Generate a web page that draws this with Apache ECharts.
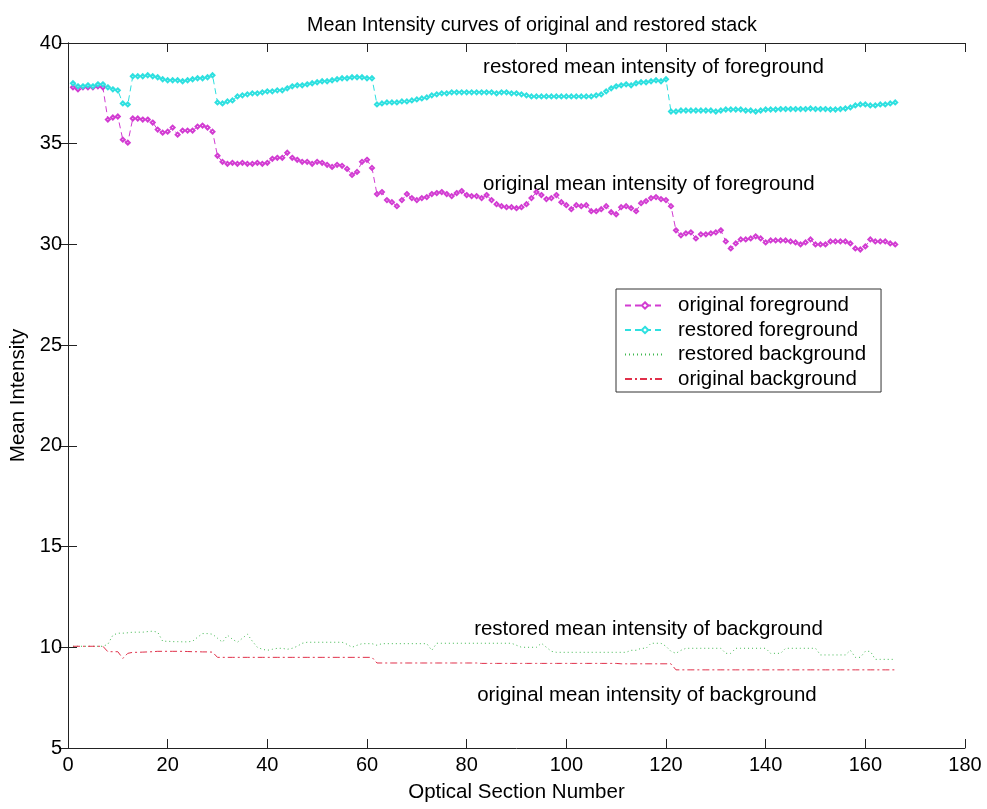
<!DOCTYPE html>
<html>
<head>
<meta charset="utf-8">
<script src="https://cdn.jsdelivr.net/npm/echarts@6/dist/echarts.min.js"></script>
<style>
html,body{margin:0;padding:0;background:#fff;}
#chart{width:987px;height:809px;}
</style>
</head>
<body>
<div id="chart"></div>
<script>
// Optical section numbers 1..166
var sections = [];
for (var s = 1; s <= 166; s++) sections.push(s);

var originalForeground = [
37.8,37.7,37.8,37.8,37.8,37.85,37.8,36.2,36.3,36.35,
35.2,35.05,36.25,36.25,36.2,36.2,36.05,35.7,35.55,35.6,
35.8,35.45,35.65,35.65,35.65,35.85,35.9,35.8,35.6,34.4,
34.1,34.0,34.05,34.0,34.05,34.0,34.0,34.05,34.0,34.05,
34.25,34.3,34.3,34.55,34.3,34.2,34.1,34.1,34.0,34.1,
34.05,33.95,33.85,33.95,33.9,33.75,33.45,33.6,34.1,34.2,
33.8,32.5,32.6,32.2,32.1,31.9,32.2,32.5,32.3,32.2,
32.3,32.35,32.5,32.55,32.6,32.5,32.4,32.55,32.65,32.45,
32.4,32.4,32.3,32.45,32.2,32.0,31.9,31.85,31.85,31.8,
31.85,32.0,32.3,32.6,32.45,32.25,32.3,32.45,32.1,31.95,
31.75,31.95,31.9,31.95,31.65,31.65,31.75,31.9,31.6,31.5,
31.85,31.9,31.8,31.65,32.05,32.15,32.3,32.35,32.25,32.2,
31.9,30.7,30.45,30.55,30.6,30.3,30.5,30.5,30.55,30.6,
30.7,30.15,29.8,30.05,30.25,30.25,30.3,30.4,30.3,30.1,
30.2,30.2,30.2,30.2,30.15,30.1,30.0,30.1,30.25,30.0,
30.0,30.0,30.15,30.15,30.15,30.15,30.05,29.8,29.75,29.9,
30.25,30.15,30.15,30.15,30.05,30.0
];

var restoredForeground = [
38.0,37.85,37.85,37.9,37.85,37.95,37.95,37.8,37.7,37.65,
37.0,36.95,38.35,38.35,38.35,38.4,38.35,38.3,38.2,38.15,
38.15,38.15,38.1,38.15,38.2,38.25,38.25,38.3,38.4,37.05,
37.0,37.1,37.15,37.35,37.4,37.45,37.5,37.5,37.55,37.6,
37.6,37.65,37.65,37.75,37.85,37.9,37.9,37.95,38.0,38.05,
38.1,38.1,38.15,38.2,38.25,38.25,38.3,38.3,38.3,38.25,
38.25,36.95,37.0,37.05,37.05,37.05,37.1,37.1,37.15,37.2,
37.25,37.3,37.4,37.45,37.5,37.5,37.55,37.55,37.55,37.55,
37.55,37.55,37.55,37.55,37.55,37.5,37.55,37.55,37.5,37.5,
37.45,37.4,37.35,37.35,37.35,37.35,37.35,37.35,37.35,37.35,
37.35,37.35,37.35,37.35,37.35,37.4,37.45,37.6,37.75,37.85,
37.9,37.95,37.9,38.0,38.05,38.05,38.1,38.15,38.1,38.2,
36.6,36.6,36.65,36.65,36.65,36.65,36.65,36.65,36.65,36.6,
36.65,36.7,36.7,36.7,36.7,36.65,36.65,36.6,36.65,36.7,
36.7,36.7,36.72,36.72,36.72,36.72,36.72,36.72,36.75,36.72,
36.72,36.72,36.7,36.7,36.72,36.75,36.8,36.9,36.95,36.95,
36.9,36.9,36.95,36.95,37.0,37.05
];

var restoredBackground = [
10.05,10.05,10.05,10.05,10.05,10.05,10.05,10.15,10.6,10.7,
10.7,10.72,10.75,10.75,10.75,10.78,10.8,10.75,10.3,10.3,
10.28,10.28,10.27,10.27,10.3,10.5,10.68,10.68,10.65,10.45,
10.25,10.6,10.4,10.25,10.45,10.65,10.3,10.0,9.9,9.85,
9.9,9.95,9.95,9.9,9.95,10.05,10.2,10.25,10.25,10.25,
10.25,10.25,10.25,10.25,10.25,10.15,10.0,10.1,10.18,10.18,
10.18,10.1,10.18,10.18,10.18,10.18,10.18,10.18,10.18,10.18,
10.18,10.18,9.85,10.2,10.2,10.2,10.2,10.2,10.2,10.2,
10.2,10.2,10.2,10.2,10.2,10.2,10.2,10.2,10.2,10.1,
10.0,10.0,10.0,10.0,10.2,10.0,9.8,9.75,9.75,9.75,
9.75,9.75,9.75,9.75,9.75,9.75,9.75,9.75,9.75,9.75,
9.75,9.75,9.85,9.85,9.95,9.95,10.2,10.2,10.2,10.05,
9.8,9.7,9.85,9.95,9.95,9.95,9.95,9.95,9.95,9.95,
9.95,9.7,9.7,9.95,9.95,9.95,9.95,9.95,9.95,9.95,
9.7,9.7,9.7,9.95,9.95,9.95,9.95,9.95,9.95,9.95,
9.62,9.62,9.62,9.62,9.62,9.62,9.85,9.5,9.5,9.8,
9.8,9.4,9.4,9.4,9.4,9.4
];

var originalBackground = [
10.05,10.05,10.05,10.05,10.05,10.05,10.05,9.78,9.78,9.78,
9.45,9.7,9.75,9.75,9.76,9.77,9.78,9.8,9.8,9.8,
9.8,9.8,9.8,9.79,9.78,9.78,9.77,9.77,9.76,9.5,
9.5,9.5,9.5,9.5,9.5,9.5,9.5,9.5,9.5,9.5,
9.5,9.5,9.5,9.5,9.5,9.5,9.5,9.5,9.5,9.5,
9.5,9.5,9.5,9.5,9.5,9.5,9.5,9.5,9.5,9.5,
9.5,9.22,9.22,9.22,9.22,9.22,9.22,9.22,9.22,9.22,
9.22,9.22,9.22,9.22,9.22,9.22,9.22,9.22,9.22,9.22,
9.22,9.22,9.2,9.2,9.2,9.2,9.2,9.2,9.2,9.2,
9.2,9.2,9.2,9.2,9.2,9.2,9.2,9.2,9.2,9.2,
9.2,9.2,9.2,9.2,9.2,9.2,9.2,9.2,9.2,9.2,
9.18,9.18,9.18,9.18,9.18,9.18,9.18,9.18,9.18,9.18,
9.18,8.88,8.88,8.88,8.88,8.88,8.88,8.88,8.88,8.88,
8.88,8.88,8.88,8.88,8.88,8.88,8.88,8.88,8.88,8.88,
8.88,8.88,8.88,8.88,8.88,8.88,8.88,8.88,8.88,8.88,
8.88,8.88,8.88,8.88,8.88,8.88,8.88,8.88,8.88,8.88,
8.88,8.88,8.88,8.88,8.88,8.88
];

var seriesNames = ['original foreground','restored foreground','restored background','original background'];
var annotationTexts = ['restored mean intensity of foreground','original mean intensity of foreground','restored mean intensity of background','original mean intensity of background'];
var annotationX = [83.3, 83.3, 81.5, 82.1];
var annotationY = [38.8, 33.0, 10.9, 7.6];

function pairs(vals){ return vals.map(function(v,i){ return [sections[i], v]; }); }

var FONT = '"Liberation Sans", Arial, sans-serif';
var chart = echarts.init(document.getElementById('chart'), null, {renderer:'canvas'});

var axisCommon = {
  type:'value',
  axisLine:{show:true, lineStyle:{color:'#222', width:1}},
  axisTick:{show:true, inside:true, length:9, lineStyle:{color:'#222'}},
  splitLine:{show:false}
};

var option = {
  animation:false,
  backgroundColor:'#fff',
  title:{
    text:'Mean Intensity curves of original and restored stack',
    left:527, top:11, textAlign:'center',
    textStyle:{fontFamily:FONT, fontSize:19.7, fontWeight:'normal', color:'#000'}
  },
  grid:{left:68, top:43, width:897, height:705, containLabel:false, outerBoundsMode:'none'},
  legend:{
    data:[
      {name:seriesNames[0]},
      {name:seriesNames[1]},
      {name:seriesNames[2], itemStyle:{opacity:0}, lineStyle:{color:'#3fb84f'}},
      {name:seriesNames[3], itemStyle:{opacity:0}, lineStyle:{color:'#e0304a'}}
    ],
    orient:'vertical',
    left:616, top:289,
    itemWidth:40, itemHeight:8, itemGap:0.5,
    padding:[4.5,15,1,8],
    borderColor:'#333', borderWidth:1, backgroundColor:'#fff',
    textStyle:{fontFamily:FONT, fontSize:20.5, lineHeight:24, color:'#000', padding:[0,0,0,8]}
  },
  xAxis:[
    Object.assign({}, axisCommon, {
      min:0, max:180, interval:20, position:'bottom',
      name:'Optical Section Number', nameLocation:'middle', nameGap:34,
      nameTextStyle:{fontFamily:FONT, fontSize:20.5, color:'#000'},
      axisLabel:{fontFamily:FONT, fontSize:20, color:'#000', margin:7}
    }),
    Object.assign({}, axisCommon, {
      min:0, max:180, interval:20, position:'top',
      axisLabel:{show:false}
    })
  ],
  yAxis:[
    Object.assign({}, axisCommon, {
      min:5, max:40, interval:5, position:'left',
      name:'Mean Intensity', nameLocation:'middle', nameGap:32,
      nameTextStyle:{fontFamily:FONT, fontSize:20.5, color:'#000'},
      axisLabel:{fontFamily:FONT, fontSize:20, color:'#000', margin:6}
    }),
    Object.assign({}, axisCommon, {
      min:5, max:40, interval:5, position:'right',
      axisLabel:{show:false}
    })
  ],
  series:[
    {
      name:seriesNames[0], type:'line', data:pairs(originalForeground),
      symbol:'emptyDiamond', symbolSize:4, showSymbol:true,
      lineStyle:{color:'#d23cd2', width:1, type:[6,4]},
      itemStyle:{color:'#d23cd2', borderColor:'#d23cd2'}
    },
    {
      name:seriesNames[1], type:'line', data:pairs(restoredForeground),
      symbol:'emptyDiamond', symbolSize:4, showSymbol:true,
      lineStyle:{color:'#2ee0e0', width:1, type:[6,4]},
      itemStyle:{color:'#2ee0e0', borderColor:'#2ee0e0'}
    },
    {
      name:seriesNames[2], type:'line', data:pairs(restoredBackground),
      symbol:'none',
      lineStyle:{color:'#3fb84f', width:1, type:[1,3]},
      itemStyle:{color:'#3fb84f'}
    },
    {
      name:seriesNames[3], type:'line', data:pairs(originalBackground),
      symbol:'none',
      lineStyle:{color:'#e0304a', width:1, type:[7,3,2,3]},
      itemStyle:{color:'#e0304a'}
    },
    {
      name:'annotations', type:'scatter', silent:true,
      symbolSize:0,
      itemStyle:{opacity:1},
      data:annotationX.map(function(x,i){ return {value:[x, annotationY[i]], label:{formatter:annotationTexts[i]}}; }),
      label:{show:true, position:'right', distance:0, opacity:1, fontFamily:FONT, fontSize:20.5, color:'#000'}
    }
  ]
};
chart.setOption(option);
</script>
</body>
</html>
